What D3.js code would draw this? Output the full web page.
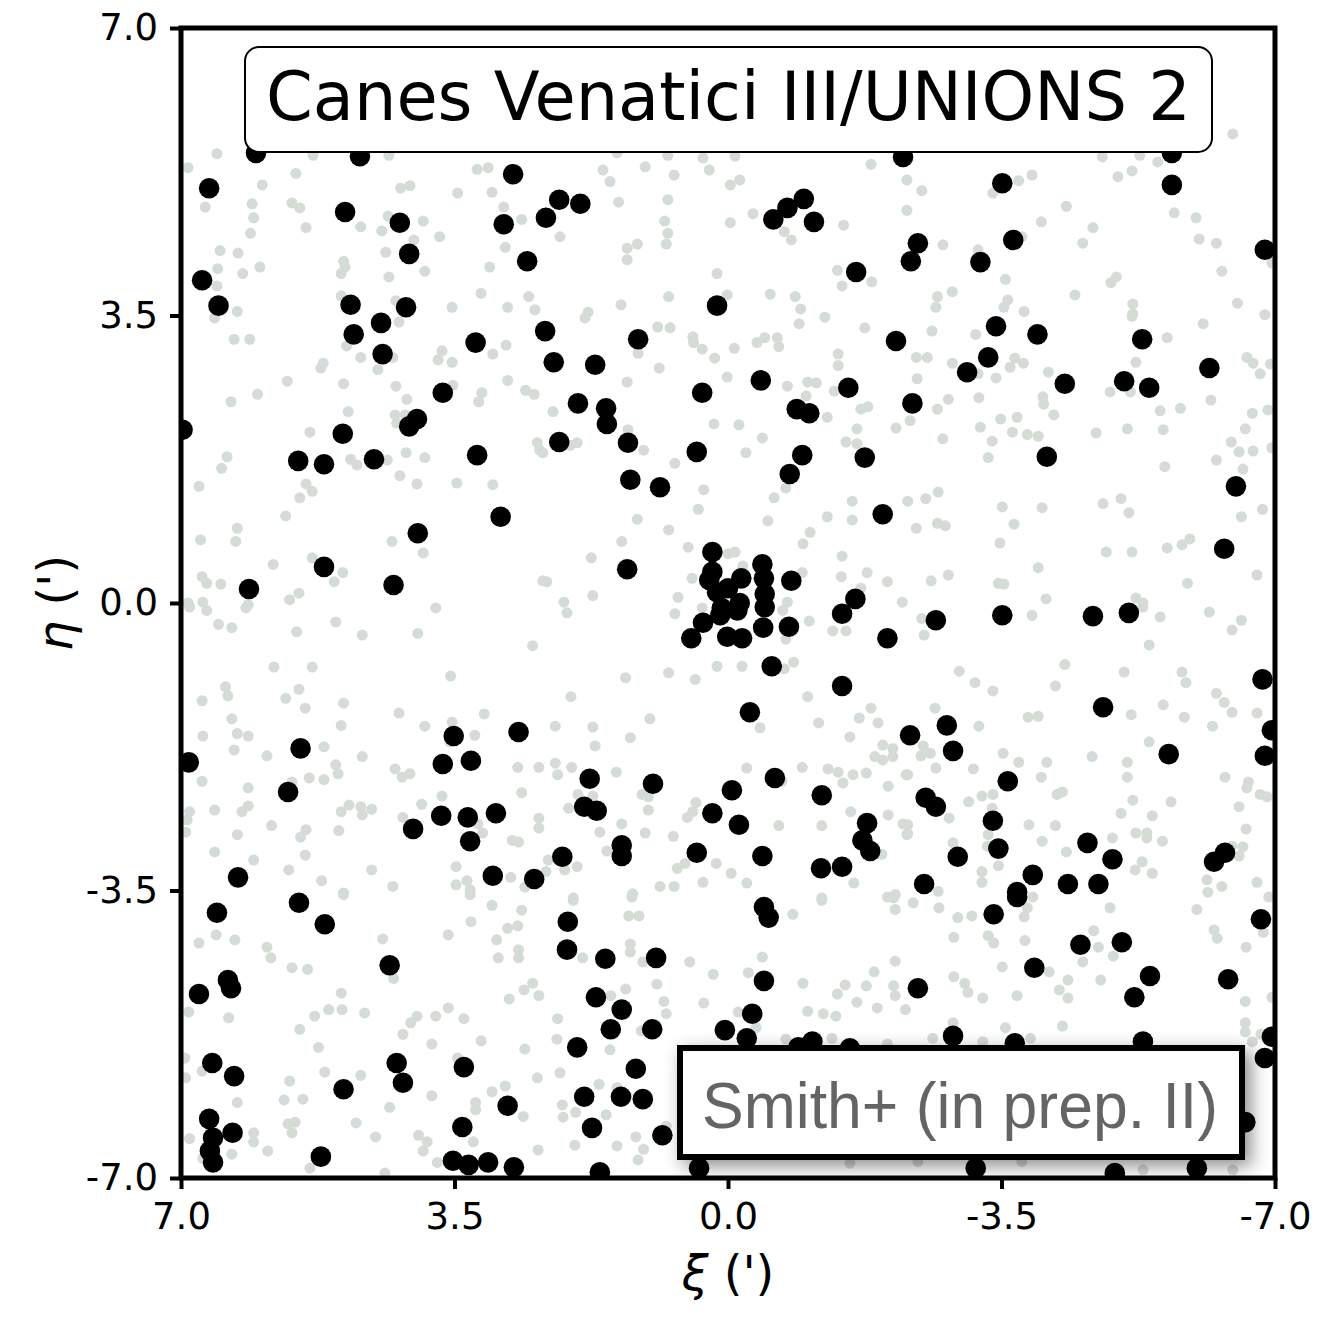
<!DOCTYPE html>
<html><head><meta charset="utf-8">
<script src="https://cdn.jsdelivr.net/npm/d3@7"></script>
<style>body{margin:0;background:#fff}</style>
</head><body>
<script>
const titleText = "Canes Venatici III/UNIONS 2";
const creditText = "Smith+ (in prep. II)";
const xTicks = [7, 3.5, 0, -3.5, -7];
const yTicks = [7, 3.5, 0, -3.5, -7];
// members: [xi, eta] in arcmin (black)
const members = [[6.04,5.48],[4.71,5.44],[6.64,5.05],[2.75,5.22],[4.90,4.76],[4.20,4.63],[2.87,4.61],[2.33,4.69],[2.16,4.91],[1.89,4.86],[4.08,4.25],[2.57,4.16],[6.73,3.93],[6.52,3.62],[4.83,3.63],[4.79,3.27],[4.44,3.41],[4.42,3.03],[4.12,3.60],[-0.58,4.67],[-0.76,4.81],[-0.97,4.92],[-1.10,4.64],[0.14,3.62],[-1.64,4.03],[-2.43,4.38],[-2.34,4.16],[-3.23,4.15],[-3.51,5.11],[-3.65,4.42],[-5.68,5.09],[-5.68,5.48],[-2.24,5.43],[-6.87,4.30],
[6.98,2.11],[4.93,2.06],[5.50,1.73],[5.17,1.69],[4.53,1.75],[4.08,2.15],[3.98,2.24],[3.65,2.56],[3.23,3.17],[3.21,1.80],[2.91,1.05],[3.97,0.85],[5.17,0.44],[4.28,0.22],[6.13,0.17],[2.34,3.31],[2.23,2.93],[1.70,2.90],[1.92,2.43],[1.56,2.37],[1.55,2.18],[2.16,1.96],[1.28,1.95],[1.25,1.50],[0.87,1.41],[1.15,3.21],[0.33,2.56],[0.40,1.84],[-0.42,2.71],[-0.88,2.36],[-1.04,2.31],[-0.95,1.80],[-0.79,1.57],[-1.54,2.62],[-1.75,1.77],[-1.98,1.08],[-2.15,3.19],[1.29,0.41],[-3.43,3.37],[-3.96,3.27],[-5.30,3.21],[-3.33,2.99],[-3.06,2.81],[-4.31,2.67],[-5.07,2.70],[-5.39,2.62],[-6.16,2.86],[-2.36,2.43],[-4.08,1.78],[-6.50,1.42],[-6.35,0.66],
[0.20,0.62],[0.20,0.38],[0.24,0.28],[0.14,0.13],[0.00,0.18],[-0.17,0.30],[-0.15,0.00],[0.08,-0.06],[-0.44,0.47],[-0.46,0.30],[-0.47,0.11],[-0.47,-0.05],[-0.81,0.27],[-1.63,0.05],[-1.46,-0.13],[0.32,-0.24],[0.47,-0.43],[0.10,-0.15],[-0.12,-0.09],[0.01,-0.41],[-0.18,-0.43],[-0.45,-0.30],[-0.78,-0.29],[-2.04,-0.43],[-0.56,-0.77],[-1.46,-1.01],[-0.28,-1.33],
[6.90,-1.94],[5.47,-1.77],[5.63,-2.30],[3.51,-1.62],[3.65,-1.96],[3.29,-1.92],[2.68,-1.57],[4.03,-2.75],[3.67,-2.59],[3.33,-2.61],[2.97,-2.56],[3.30,-2.90],[6.27,-3.34],[3.01,-3.32],[2.48,-3.36],[5.49,-3.65],[1.77,-2.14],[1.84,-2.48],[1.68,-2.53],[0.96,-2.20],[-0.05,-2.28],[-0.60,-2.13],[0.20,-2.56],[-0.14,-2.70],[-1.20,-2.34],[-1.78,-2.68],[-1.72,-2.89],[-1.82,-3.02],[1.36,-2.95],[1.36,-3.08],[2.12,-3.09],[0.40,-3.04],[-0.44,-3.08],[-1.19,-3.23],[-1.46,-3.21],[-2.33,-1.61],[-2.66,-0.21],[-3.51,-0.15],[-4.67,-0.16],[-5.13,-0.12],[-6.84,-0.93],[-4.80,-1.27],[-2.80,-1.49],[-2.88,-1.80],[-6.96,-1.55],[-6.87,-1.86],[-5.64,-1.84],[-3.58,-2.17],[-2.53,-2.37],[-2.66,-2.48],[-3.39,-2.65],[-3.46,-2.99],[-2.94,-3.09],[-4.60,-2.92],[-4.92,-3.12],[-6.36,-3.04],[-6.22,-3.15],[-2.51,-3.42],[-3.90,-3.31],[-3.70,-3.52],[-4.35,-3.42],[-4.74,-3.42],
[6.54,-3.77],[5.16,-3.91],[4.33,-4.41],[6.40,-4.59],[6.36,-4.69],[6.77,-4.76],[6.60,-5.60],[6.32,-5.76],[4.92,-5.92],[4.24,-5.60],[4.16,-5.84],[3.38,-5.65],[2.82,-6.12],[6.64,-6.28],[6.59,-6.51],[6.63,-6.67],[6.59,-6.81],[6.34,-6.45],[5.21,-6.74],[3.40,-6.38],[3.52,-6.79],[3.32,-6.84],[3.07,-6.81],[2.74,-6.87],[-0.46,-3.70],[-0.52,-3.83],[2.05,-3.88],[2.06,-4.22],[1.57,-4.33],[0.92,-4.32],[-0.46,-4.60],[1.69,-4.80],[1.36,-4.95],[1.50,-5.19],[0.97,-5.19],[1.93,-5.41],[1.18,-5.67],[-0.31,-5.00],[0.04,-5.20],[-0.24,-5.30],[-1.08,-5.34],[-0.90,-5.41],[-1.56,-5.42],[1.84,-6.01],[1.37,-6.01],[1.09,-6.04],[1.74,-6.39],[0.84,-6.48],[1.64,-6.93],[0.37,-6.88],[-3.40,-3.79],[-3.70,-3.58],[-4.51,-4.16],[-5.04,-4.13],[-3.92,-4.44],[-5.40,-4.54],[-5.20,-4.80],[-6.40,-4.58],[-2.43,-4.69],[-6.82,-3.85],[-2.88,-5.27],[-3.67,-5.36],[-5.31,-5.34],[-6.96,-5.28],[-6.87,-5.54],[-6.62,-6.32],[-3.17,-6.88],[-4.95,-6.94],[-6.00,-6.88]];
// field: [xi, eta] in arcmin (light grey)
const field = [[6.54,5.47],[6.91,5.30],[5.53,5.23],[5.96,5.09],[6.09,4.86],[6.69,4.82],[5.58,4.87],[5.48,4.81],[6.07,4.69],[5.40,4.57],[6.11,4.50],[6.50,4.29],[6.27,4.26],[6.53,4.07],[6.21,4.01],[5.99,4.09],[6.54,3.86],[6.28,3.55],[4.70,4.58],[4.43,4.53],[4.35,4.71],[3.90,4.65],[4.02,4.42],[3.69,4.46],[4.38,4.27],[3.88,4.04],[4.34,3.97],[4.92,4.16],[4.90,4.09],[4.95,4.01],[4.95,3.74],[4.25,3.68],[3.53,3.60],[4.19,5.05],[4.07,5.08],[3.46,4.99],[3.21,5.28],[3.07,5.30],[3.02,5.00],[2.87,4.82],[2.64,4.67],[2.85,4.33],[3.05,4.09],[3.16,3.77],[2.82,3.60],[2.55,3.73],[2.47,3.57],[5.31,5.45],[4.34,5.45],
[1.60,5.27],[1.51,5.13],[1.06,5.31],[0.69,5.21],[0.24,5.27],[0.32,5.42],[0.77,5.45],[1.42,5.48],[-0.09,5.44],[-0.03,5.09],[-0.15,5.15],[1.40,4.88],[0.77,4.91],[0.81,4.65],[0.77,4.50],[0.79,4.37],[1.29,4.32],[1.16,4.37],[1.29,4.18],[2.15,4.46],[-0.32,4.74],[-0.03,4.63],[-0.72,4.52],[-0.81,4.42],[-1.48,4.60],[-1.83,5.34],[-2.29,5.15],[-2.29,4.78],[-1.40,4.05],[-1.46,3.86],[-1.84,3.91],[0.14,4.01],[0.01,3.75],[-0.54,3.76],[-0.86,3.73],[-0.93,3.58],[-1.24,3.48],[0.76,3.73],[1.37,3.63],[1.79,3.54],
[-6.46,5.71],[-4.79,5.43],[-5.27,5.45],[-5.50,5.37],[-4.99,5.19],[-5.17,5.26],[-3.72,5.14],[-3.89,5.21],[-3.39,4.99],[-2.48,5.02],[-4.33,4.83],[-4.01,4.64],[-4.67,4.57],[-4.54,4.38],[-5.71,4.75],[-5.99,4.69],[-6.03,4.43],[-6.25,4.38],[-6.32,4.04],[-2.75,4.36],[-3.20,4.30],[-3.76,4.46],[-3.55,3.94],[-4.97,3.97],[-4.90,3.90],[-4.44,3.75],[-5.18,3.64],[-5.18,3.52],[-2.87,3.79],[-2.68,3.73],[-2.66,3.60],[-3.58,3.69],[-3.53,3.60],[-3.79,3.55],[-6.52,3.65],[-6.87,3.51],[-6.96,4.14],
[6.57,3.47],[6.32,3.21],[6.12,3.21],[6.36,2.45],[6.02,2.54],[5.64,2.70],[5.21,2.86],[5.18,2.92],[4.88,3.13],[4.70,2.99],[4.48,2.84],[4.92,2.67],[4.86,2.33],[4.25,2.64],[4.11,2.48],[4.21,3.42],[4.29,2.99],[4.26,2.29],[4.13,2.29],[4.24,2.19],[5.35,2.08],[6.41,1.78],[6.48,1.64],[6.77,1.42],[5.40,1.45],[5.32,1.36],[5.48,1.28],[5.66,1.06],[4.83,1.75],[4.75,1.68],[4.36,1.74],[4.12,1.83],[3.88,1.77],[4.20,1.55],[3.98,1.45],[3.47,1.46],[3.01,1.44],[3.66,3.07],[3.71,2.96],[3.53,2.93],[3.52,2.65],[3.15,2.56],[3.19,2.45],[3.01,3.03],[2.84,3.14],[2.82,2.71],[2.59,2.59],[2.48,2.54],[2.44,1.95],[2.41,1.86],[6.28,0.91],[6.30,0.75],[6.75,0.77],[5.82,0.47],[5.32,0.55],[4.93,0.37],[5.04,0.26],[4.30,0.75],[3.90,0.61],[6.73,0.32],[6.67,0.24],[6.49,0.23],[5.49,0.12],[5.61,0.04],[6.91,0.00],[6.72,0.01],[6.14,-0.02],[3.74,-0.06],[2.37,0.27],
[1.83,3.47],[0.90,3.36],[0.74,3.35],[0.45,3.24],[0.44,3.17],[0.33,3.09],[0.17,2.98],[-0.08,3.10],[-0.37,3.17],[-0.47,3.23],[-0.63,3.23],[-0.65,3.12],[-0.91,3.40],[-1.75,3.35],[-1.41,3.03],[-1.41,2.89],[1.15,3.04],[0.88,2.86],[1.29,2.69],[0.01,2.75],[-0.76,2.64],[-1.02,2.69],[-1.13,2.68],[-1.00,2.52],[-1.36,2.58],[-1.70,2.36],[-1.79,2.39],[-1.27,2.26],[-1.65,2.12],[-2.15,2.13],[-1.51,1.96],[-1.65,1.94],[2.24,2.33],[1.93,1.95],[2.02,1.92],[2.37,1.83],[1.08,1.86],[1.28,2.11],[0.18,2.18],[-0.14,2.17],[-0.44,2.01],[-0.23,1.83],[0.68,1.70],[0.31,1.38],[0.38,1.14],[-0.74,1.40],[-0.59,1.28],[-1.59,1.24],[-1.27,1.05],[-1.59,1.01],[-0.51,1.00],[1.16,1.02],[0.76,0.89],[1.36,0.75],[1.75,0.55],[-1.05,0.86],[-0.96,0.72],[-1.46,0.57],[0.51,0.68],[0.00,0.60],[-0.09,0.62],[-0.19,0.45],[0.46,0.30],[-0.95,0.37],[-1.45,0.32],[-1.78,0.37],[-2.04,0.26],[2.32,0.26],[1.73,0.09],[2.10,0.01],[0.64,0.07],[-0.76,0.01],[-1.70,0.18],[-2.23,0.01],
[-2.61,3.31],[-3.17,3.27],[-2.41,2.99],[-2.55,2.99],[-2.87,2.92],[-3.20,2.79],[-3.43,2.74],[-3.61,2.87],[-3.67,2.98],[-3.78,2.92],[-4.10,2.81],[-2.42,2.73],[-2.82,2.48],[-2.68,2.36],[-2.33,2.22],[-3.21,2.50],[-4.03,2.51],[-4.04,2.42],[-4.17,2.29],[-3.49,2.24],[-3.70,2.26],[-3.23,2.14],[-3.64,2.08],[-3.83,2.05],[-3.97,2.03],[-3.38,1.97],[-2.75,2.00],[-3.33,1.77],[-4.89,2.57],[-5.15,2.57],[-5.22,2.93],[-5.62,3.23],[-6.08,3.40],[-5.17,3.49],[-6.64,2.99],[-6.72,2.92],[-6.81,2.79],[-6.94,2.91],[-5.53,2.34],[-5.79,2.37],[-5.11,2.12],[-5.57,2.11],[-4.71,2.07],[-6.18,2.47],[-6.71,2.31],[-6.62,2.12],[-6.44,1.96],[-6.54,1.84],[-6.72,1.85],[-6.25,1.74],[-6.59,1.63],[-6.91,2.35],[-6.96,1.89],[-5.59,1.66],[-2.69,1.35],[-2.53,1.27],[-2.30,1.24],[-3.51,1.17],[-4.02,1.16],[-4.80,1.21],[-5.03,1.27],[-5.13,1.10],[-2.68,0.97],[-2.78,0.94],[-2.41,0.91],[-3.66,0.96],[-6.57,1.05],[-6.84,1.14],[-3.48,0.73],[-4.84,0.62],[-5.17,0.62],[-5.62,0.67],[-5.81,0.71],[-5.91,0.78],[-3.97,0.43],[-2.60,0.27],[-2.82,0.34],[-3.46,0.24],[-3.53,0.23],[-4.07,0.05],[-5.88,0.24],[-6.77,0.34],[-5.22,0.06],[-5.31,0.00],[-6.16,-0.11],
[6.89,-0.05],[6.67,-0.09],[6.17,-0.06],[6.52,-0.26],[6.35,-0.30],[5.52,-0.35],[5.02,-0.23],[4.68,-0.39],[3.97,-0.37],[2.50,-0.52],[5.81,-0.78],[5.32,-0.78],[3.55,-0.89],[6.43,-1.02],[6.40,-1.13],[5.49,-1.05],[5.66,-1.16],[6.73,-1.19],[5.41,-1.28],[4.92,-1.22],[6.35,-1.41],[4.21,-1.34],[4.95,-1.49],[3.88,-1.50],[3.53,-1.45],[3.12,-1.35],[6.72,-1.62],[6.28,-1.59],[6.14,-1.62],[6.32,-1.79],[3.24,-1.61],[3.56,-1.69],[5.90,-1.86],[5.17,-1.75],[4.68,-1.87],[5.02,-1.97],[4.99,-2.08],[4.26,-2.02],[4.17,-2.12],[4.07,-2.08],[2.69,-2.00],[2.42,-2.00],[6.73,-2.17],[5.36,-2.13],[5.17,-2.15],[5.58,-2.18],[6.14,-2.25],[6.14,-2.47],[6.22,-2.54],[6.57,-2.52],[6.89,-2.54],[6.92,-2.64],[6.94,-2.79],[4.95,-2.54],[4.85,-2.46],[4.70,-2.48],[4.68,-2.58],[4.56,-2.51],[3.92,-2.45],[4.16,-2.61],[3.66,-2.35],[2.64,-2.31],[2.42,-2.62],[2.42,-2.74],[5.84,-2.71],[5.40,-2.76],[5.47,-2.85],[4.98,-2.77],[6.28,-2.82],[3.20,-2.69],[3.14,-2.80],[2.76,-2.89],[2.68,-2.91],[6.57,-3.03],[6.07,-3.13],[5.41,-3.07],[5.62,-3.25],[5.20,-3.38],[4.56,-3.25],[4.29,-3.45],[4.92,-3.53],[3.48,-3.21],[3.48,-3.43],[3.34,-3.38],[3.30,-3.49],[2.78,-3.34],[2.60,-3.46],
[2.06,-0.12],[0.68,-0.13],[0.33,-0.06],[-0.70,-0.09],[-1.04,-0.22],[-1.34,-0.34],[-1.51,-0.34],[-0.74,-0.44],[1.31,-0.91],[0.76,-0.85],[0.42,-0.93],[0.14,-0.77],[-0.18,-0.77],[-0.72,-0.80],[-0.84,-0.72],[2.01,-1.14],[-1.02,-1.14],[2.21,-1.50],[1.73,-1.51],[1.00,-1.41],[1.25,-1.64],[1.70,-1.74],[-0.41,-1.52],[-1.16,-1.46],[-1.68,-1.40],[-1.83,-1.28],[-1.92,-1.46],[-1.56,-1.63],[-1.98,-1.73],[-2.11,-1.77],[-2.11,-1.87],[-1.88,-1.87],[-1.98,-1.91],[2.21,-1.95],[2.18,-2.09],[2.00,-2.00],[1.43,-2.06],[-0.24,-2.01],[-0.95,-2.00],[-1.28,-2.02],[-1.41,-2.06],[-1.60,-2.09],[-1.77,-2.07],[-1.47,-2.19],[-2.05,-2.23],[-2.28,-2.09],[1.92,-2.33],[1.73,-2.35],[2.04,-2.50],[1.10,-2.33],[1.02,-2.36],[1.02,-2.52],[0.41,-2.43],[0.52,-2.61],[0.45,-2.54],[-0.69,-2.17],[-1.57,-2.54],[-2.05,-2.58],[-2.24,-2.69],[-2.29,-2.82],[1.36,-2.69],[1.64,-2.79],[1.06,-2.80],[0.70,-2.84],[-0.65,-2.71],[-1.20,-2.71],[1.55,-3.02],[2.30,-3.13],[1.93,-3.21],[2.09,-3.25],[2.33,-3.27],[0.65,-3.23],[0.55,-3.17],[0.15,-3.17],[-0.04,-3.29],[-1.97,-3.06],[-0.24,-3.41],[0.32,-3.40],[0.87,-3.45],[0.69,-3.45],[1.22,-3.54],[1.98,-3.59],[-1.61,-3.41],[-2.04,-3.58],[-2.14,-3.55],[-1.20,-3.59],
[-2.48,-0.19],[-2.51,-0.39],[-3.89,-0.15],[-5.53,-0.17],[-5.31,-0.05],[-6.57,-0.21],[-6.45,-0.33],[-5.39,-0.51],[-2.96,-0.83],[-3.16,-0.97],[-3.39,-1.07],[-4.31,-0.75],[-4.19,-1.01],[-5.07,-0.84],[-5.81,-0.84],[-5.86,-0.97],[-6.25,-1.10],[-6.35,-1.21],[-6.45,-1.33],[-6.77,-1.34],[-6.20,-1.50],[-5.84,-1.39],[-5.57,-1.24],[-5.16,-1.36],[-3.84,-1.39],[-3.97,-1.38],[-2.65,-1.28],[-3.21,-1.50],[-5.39,-1.69],[-2.50,-1.74],[-2.59,-1.83],[-2.47,-1.86],[-3.52,-1.83],[-3.72,-1.94],[-4.08,-1.94],[-4.66,-1.87],[-5.11,-1.94],[-5.11,-2.12],[-2.66,-2.01],[-3.14,-2.02],[-2.30,-2.09],[-4.01,-2.12],[-6.36,-2.12],[-6.66,-2.18],[-6.64,-2.25],[-6.81,-2.33],[-6.90,-2.36],[-4.21,-2.33],[-4.28,-2.30],[-3.25,-2.35],[-3.39,-2.33],[-3.08,-2.42],[-3.38,-2.50],[-5.18,-2.40],[-5.67,-2.42],[-6.54,-2.48],[-5.03,-2.56],[-5.43,-2.59],[-2.83,-2.62],[-3.85,-2.70],[-4.19,-2.71],[-6.63,-2.75],[-2.30,-2.70],[-2.30,-2.81],[-5.22,-2.80],[-5.36,-2.80],[-5.36,-2.86],[-4.92,-2.86],[-5.56,-2.90],[-4.02,-2.90],[-3.33,-2.82],[-3.32,-2.96],[-2.88,-2.92],[-4.33,-3.03],[-6.59,-2.97],[-6.54,-3.08],[-6.45,-2.96],[-5.30,-3.15],[-5.21,-3.25],[-5.43,-3.29],[-3.46,-3.20],[-3.25,-3.27],[-3.25,-3.40],[-2.69,-3.51],[-6.13,-3.37],[-6.14,-3.52],[-6.32,-3.45],[-6.77,-3.40],[-3.90,-3.58],[-6.92,-3.58],
[4.92,-3.55],[3.30,-3.55],[3.02,-3.68],[2.64,-3.74],[2.82,-3.96],[2.69,-3.93],[2.96,-4.10],[2.94,-4.32],[2.68,-4.22],[2.68,-4.32],[3.29,-3.88],[3.58,-4.04],[4.42,-4.09],[4.28,-4.57],[6.77,-4.14],[6.55,-4.04],[6.31,-4.10],[5.90,-4.19],[5.85,-4.32],[5.58,-4.44],[5.38,-4.46],[2.50,-4.63],[2.61,-4.71],[2.42,-4.78],[2.80,-4.82],[4.95,-4.75],[5.11,-4.95],[4.94,-4.95],[5.29,-5.03],[4.65,-4.99],[5.48,-5.19],[6.39,-5.05],[6.90,-4.98],[3.98,-5.03],[4.06,-5.11],[4.16,-5.25],[3.74,-5.03],[3.58,-4.93],[3.38,-5.06],[3.79,-5.37],[3.16,-5.33],[5.24,-5.41],[2.60,-5.43],[6.95,-5.54],[6.73,-5.70],[6.94,-5.78],[5.16,-5.71],[4.70,-5.75],[5.61,-5.82],[5.68,-6.05],[5.44,-6.04],[6.28,-6.08],[4.33,-6.14],[3.79,-6.00],[3.46,-5.54],[2.85,-5.88],[3.02,-5.95],[3.23,-6.08],[3.23,-6.17],[2.62,-6.25],[2.44,-5.78],[5.63,-6.34],[5.54,-6.32],[5.58,-6.45],[4.76,-6.33],[6.07,-6.45],[6.07,-6.56],[6.89,-6.52],[4.51,-6.50],[3.96,-6.48],[3.85,-6.56],[3.90,-6.67],[3.26,-6.56],[5.89,-6.67],[6.35,-6.71],[6.72,-6.76],[2.43,-6.66],[3.72,-6.81],[5.35,-6.88],[4.39,-6.94],
[1.98,-3.62],[1.23,-3.58],[1.27,-3.81],[1.14,-3.81],[1.25,-4.15],[1.25,-4.25],[1.86,-4.32],[1.09,-4.37],[-1.20,-3.62],[-0.83,-3.79],[-2.12,-3.59],[-2.14,-3.73],[-0.44,-4.31],[-0.26,-4.50],[0.49,-4.37],[0.19,-4.52],[-2.14,-4.36],[-1.87,-4.49],[-1.50,-4.65],[-1.40,-4.76],[-1.77,-4.66],[-2.12,-4.66],[-2.14,-4.78],[-0.96,-4.63],[-1.65,-4.86],[-1.91,-4.93],[-1.02,-4.97],[-1.22,-5.00],[-1.38,-5.03],[-2.27,-4.95],[1.31,-4.70],[0.91,-4.64],[1.50,-4.78],[0.82,-4.85],[0.79,-5.00],[0.31,-4.87],[-0.13,-4.98],[1.11,-5.21],[-0.36,-5.17],[2.18,-5.06],[2.19,-5.31],[1.51,-5.44],[-0.74,-5.31],[-1.33,-5.30],[-2.04,-5.37],[2.15,-5.72],[1.65,-5.86],[2.12,-6.11],[2.11,-6.26],[1.95,-6.20],[1.56,-6.23],[1.42,-5.90],[1.29,-6.00],[0.79,-6.37],[1.18,-6.50],[1.08,-6.65],[1.15,-6.78],[1.42,-6.61],[1.96,-6.60],[-1.56,-6.82],
[-2.37,-3.65],[-2.70,-3.71],[-2.94,-3.83],[-3.12,-3.81],[-3.83,-3.71],[-3.79,-3.82],[-4.89,-3.71],[-6.00,-3.73],[-6.22,-3.98],[-6.26,-4.08],[-6.85,-4.01],[-6.63,-4.19],[-2.89,-4.07],[-3.33,-4.05],[-3.40,-4.14],[-3.80,-4.11],[-4.68,-3.99],[-4.74,-4.19],[-4.93,-4.30],[-4.54,-4.37],[-3.51,-4.43],[-4.11,-4.49],[-4.35,-4.59],[-4.24,-4.71],[-4.35,-4.81],[-4.77,-4.59],[-2.89,-4.55],[-3.03,-4.63],[-3.07,-4.74],[-3.26,-4.81],[-3.70,-4.78],[-6.62,-4.85],[-6.96,-4.80],[-4.28,-5.15],[-3.55,-5.17],[-2.88,-5.11],[-6.62,-5.11],[-6.62,-5.22],[-6.71,-5.34],[-6.82,-5.25],[-3.87,-5.30],[-3.26,-5.34],[-2.62,-5.30],[-2.43,-6.80],[-3.76,-6.80],[-5.31,-6.90],[-6.46,-6.90]];

const W = 1327, H = 1317;
const svg = d3.select("body").append("svg").attr("width", W).attr("height", H)
  .style("font-family", "'DejaVu Sans', sans-serif");
svg.append("rect").attr("width", W).attr("height", H).attr("fill", "#fff");

const x0 = 181, x1 = 1275, y0 = 28, y1 = 1178;
const x = d3.scaleLinear().domain([7, -7]).range([x0, x1]);
const y = d3.scaleLinear().domain([7, -7]).range([y0, y1]);

const defs = svg.append("defs");
defs.append("clipPath").attr("id", "plotclip").append("rect")
  .attr("x", x0).attr("y", y0).attr("width", x1 - x0).attr("height", y1 - y0);
const f = defs.append("filter").attr("id", "shadow").attr("x", "-20%").attr("y", "-40%").attr("width", "150%").attr("height", "190%");
f.append("feDropShadow").attr("dx", 6).attr("dy", 6).attr("stdDeviation", 9)
  .attr("flood-color", "#000").attr("flood-opacity", 0.45);

const g = svg.append("g").attr("clip-path", "url(#plotclip)");
g.selectAll("circle.field").data(field).join("circle").attr("class", "field")
  .attr("cx", d => x(d[0])).attr("cy", d => y(d[1])).attr("r", 5.5).attr("fill", "#d5dbd5");
g.selectAll("circle.mem").data(members).join("circle").attr("class", "mem")
  .attr("cx", d => x(d[0])).attr("cy", d => y(d[1])).attr("r", 10.3).attr("fill", "#000");

// axes
const fmt = d => d.toFixed(1);
const xAxis = svg.append("g").attr("transform", `translate(0,${y1})`)
  .call(d3.axisBottom(x).tickValues(xTicks).tickFormat(fmt).tickSize(11).tickPadding(14));
const yAxis = svg.append("g").attr("transform", `translate(${x0},0)`)
  .call(d3.axisLeft(y).tickValues(yTicks).tickFormat(fmt).tickSize(11).tickPadding(12));
[xAxis, yAxis].forEach(a => {
  a.select(".domain").remove();
  a.selectAll(".tick line").attr("stroke", "#000").attr("stroke-width", 4);
  a.selectAll(".tick text").attr("fill", "#000").style("font-size", "37px")
    .style("font-family", "'DejaVu Sans', sans-serif");
});

// frame
svg.append("rect").attr("x", x0).attr("y", y0).attr("width", x1 - x0).attr("height", y1 - y0)
  .attr("fill", "none").attr("stroke", "#000").attr("stroke-width", 5);

// axis labels
const xl = svg.append("text").attr("x", (x0 + x1) / 2).attr("y", 1290).attr("text-anchor", "middle")
  .style("font-size", "48px").style("font-family", "'DejaVu Sans', sans-serif").attr("fill", "#000");
xl.append("tspan").style("font-style", "italic").text("ξ");
xl.append("tspan").text(" (')");
const yl = svg.append("text").attr("transform", `translate(72,${(y0 + y1) / 2}) rotate(-90)`).attr("text-anchor", "middle")
  .style("font-size", "48px").style("font-family", "'DejaVu Sans', sans-serif").attr("fill", "#000");
yl.append("tspan").style("font-style", "italic").text("η");
yl.append("tspan").text(" (')");

// title box
svg.append("rect").attr("x", 245).attr("y", 47).attr("width", 967).attr("height", 105)
  .attr("rx", 14).attr("fill", "#fff").attr("stroke", "#000").attr("stroke-width", 2);
svg.append("text").attr("x", 728.5).attr("y", 120).attr("text-anchor", "middle")
  .style("font-size", "67px").style("font-family", "'DejaVu Sans', sans-serif").attr("fill", "#000")
  .text(titleText);

// credit box
svg.append("rect").attr("x", 680).attr("y", 1048).attr("width", 562).attr("height", 109)
  .attr("fill", "#fff").attr("stroke", "#000").attr("stroke-width", 6).attr("filter", "url(#shadow)");
svg.append("text").attr("x", 960).attr("y", 1128).attr("text-anchor", "middle")
  .style("font-size", "64px").style("font-family", "'Liberation Sans', Arial, sans-serif").attr("fill", "#646464")
  .attr("textLength", 516).attr("lengthAdjust", "spacingAndGlyphs")
  .text(creditText);
</script>
</body></html>
